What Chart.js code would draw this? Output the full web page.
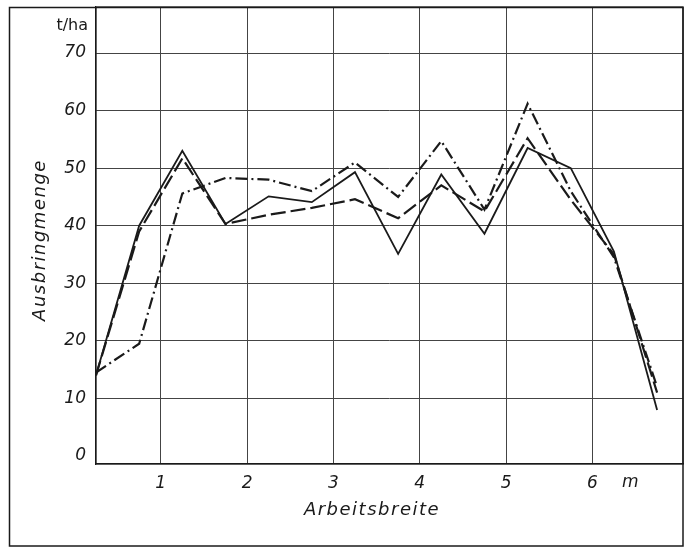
<!DOCTYPE html>
<html>
<head>
<meta charset="utf-8">
<script src="https://cdn.jsdelivr.net/npm/chart.js@4"></script>
<style>
  html, body { margin: 0; padding: 0; background: #fff; }
  #wrap { width: 690px; height: 548px; }
</style>
</head>
<body>
<div id="wrap"><canvas id="chart" width="690" height="548"></canvas></div>
<script>
// Arbeitsbreite (m) of the measuring points
const widths = [0.25, 0.75, 1.25, 1.75, 2.25, 2.75, 3.25, 3.75, 4.25, 4.75, 5.25, 5.75, 6.25, 6.75];
// Ausbringmenge (t/ha), three runs
const solidVals   = [14, 40, 53, 40.3, 45.1, 44.1, 49.3, 35.1, 48.9, 38.6, 53.5, 50, 35.5, 8];
const dashedVals  = [14, 39, 51.7, 40.3, 41.9, 43.1, 44.6, 41.3, 47, 42.5, 55.2, 44.5, 35, 11];
const dashDotVals = [14.5, 19.5, 45.6, 48.3, 48, 46, 51, 45, 54.7, 42.8, 61.2, 46, 34.5, 12];

const xTicks = [1, 2, 3, 4, 5, 6];
const yTicks = [0, 10, 20, 30, 40, 50, 60, 70];

const FONT = '"DejaVu Sans", sans-serif';
const INK = '#1a1a1a';

function toPoints(vals) {
  return vals.map((v, i) => ({ x: widths[i], y: v }));
}

const frame = {
  id: 'frame',
  afterDraw(chart) {
    const { ctx, chartArea: a, scales } = chart;
    ctx.save();
    ctx.strokeStyle = INK;
    ctx.lineWidth = 1.5;
    // outer frame of the figure
    ctx.strokeRect(9.5, 7.5, a.right - 9.5, 546 - 7.5);
    // plot border
    ctx.lineWidth = 1.2;
    ctx.strokeRect(a.left, a.top, a.right - a.left, a.bottom - a.top);

    ctx.fillStyle = INK;
    ctx.font = '16px ' + FONT;
    ctx.textAlign = 'right';
    ctx.textBaseline = 'middle';
    ctx.fillText('t/ha', 88, 26);

    ctx.font = 'italic 17px ' + FONT;
    ctx.textAlign = 'center';
    ctx.textBaseline = 'top';
    ctx.fillText('m', scales.x.getPixelForValue(6.44), a.bottom + 10);

    ctx.font = 'italic 18px ' + FONT;
    ctx.letterSpacing = '1.5px';
    ctx.textBaseline = 'middle';
    ctx.fillText('Arbeitsbreite', 372, 510);

    ctx.translate(40, 240);
    ctx.rotate(-Math.PI / 2);
    ctx.fillText('Ausbringmenge', 0, 0);
    ctx.restore();
  }
};

function lineSet(label, vals, dash, width) {
  return {
    label,
    data: toPoints(vals),
    borderColor: INK,
    borderWidth: width,
    borderDash: dash,
    pointRadius: 0,
    tension: 0,
    fill: false
  };
}

new Chart(document.getElementById('chart'), {
  type: 'line',
  data: {
    datasets: [
      lineSet('Versuch 1', solidVals, [], 1.8),
      lineSet('Versuch 2', dashedVals, [15, 5], 2.2),
      lineSet('Versuch 3', dashDotVals, [12, 4, 2, 4], 2.2)
    ]
  },
  options: {
    responsive: false,
    animation: false,
    devicePixelRatio: 1,
    layout: { padding: { left: 0, top: 7, right: 7, bottom: 0 } },
    plugins: {
      legend: { display: false },
      tooltip: { enabled: false }
    },
    scales: {
      x: {
        type: 'linear',
        min: 0.25,
        max: 7.05,
        afterBuildTicks: s => { s.ticks = xTicks.map(v => ({ value: v })); },
        afterFit: s => { s.height = 84; s.paddingLeft = 0; s.paddingRight = 0; },
        grid: { color: '#444', lineWidth: 1, drawTicks: false },
        border: { color: INK, width: 1.2 },
        ticks: {
          padding: 9,
          color: INK,
          font: { family: FONT, size: 17, style: 'italic' }
        }
      },
      y: {
        min: -1.4,
        max: 78,
        afterBuildTicks: s => { s.ticks = yTicks.map(v => ({ value: v })); },
        afterFit: s => { s.width = 96; s.paddingTop = 0; s.paddingBottom = 0; },
        grid: {
          color: c => c.tick && c.tick.value === 0 ? 'rgba(0,0,0,0)' : '#444',
          lineWidth: 1,
          drawTicks: false
        },
        border: { color: INK, width: 1.2 },
        ticks: {
          padding: 10,
          color: INK,
          font: { family: FONT, size: 17, style: 'italic' }
        }
      }
    }
  },
  plugins: [frame]
});
</script>
</body>
</html>
